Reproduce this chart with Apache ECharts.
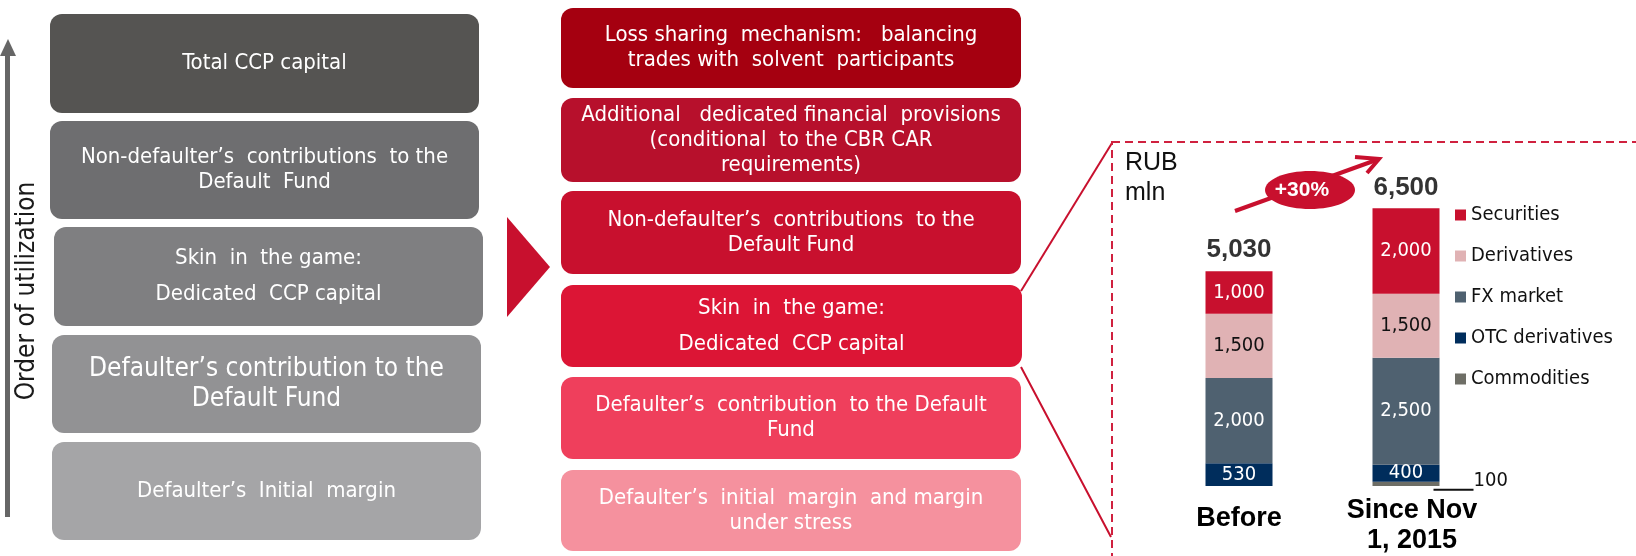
<!DOCTYPE html>
<html>
<head>
<meta charset="utf-8">
<title>CCP default waterfall</title>
<script src="https://cdn.jsdelivr.net/npm/echarts@6/dist/echarts.min.js"></script>
<style>
  html, body { margin: 0; padding: 0; background: #fff; }
  #chart { width: 1636px; height: 556px; }
</style>
</head>
<body>
<div id="chart"></div>
<script>
// text of the layers, top to bottom
const leftLayers = [
  "Total CCP capital",
  "Non-defaulter\u2019s  contributions  to the\nDefault  Fund",
  "Skin  in  the game:\nDedicated  CCP capital",
  "Defaulter\u2019s contribution to the\nDefault Fund",
  "Defaulter\u2019s  Initial  margin"
];
const rightLayers = [
  "Loss sharing  mechanism:   balancing\ntrades with  solvent  participants",
  "Additional   dedicated financial  provisions\n(conditional  to the CBR CAR\nrequirements)",
  "Non-defaulter\u2019s  contributions  to the\nDefault Fund",
  "Skin  in  the game:\nDedicated  CCP capital",
  "Defaulter\u2019s  contribution  to the Default\nFund",
  "Defaulter\u2019s  initial  margin  and margin\nunder stress"
];
const axisTitle = "Order of utilization";
const unitLabel = "RUB\nmln";
const growthLabel = "+30%";

// stacked bars, bottom to top
const categories = ["Before", "Since Nov\n1, 2015"];
const commodities = [0, 100];
const otcDerivatives = [530, 400];
const fxMarket = [2000, 2500];
const derivatives = [1500, 1500];
const securities = [1000, 2000];
const legendOrder = ["Securities", "Derivatives", "FX market", "OTC derivatives", "Commodities"];

const TAHOMA = "'DejaVu Sans Condensed', 'DejaVu Sans', sans-serif";
const ARIAL = "'Liberation Sans', Arial, sans-serif";

const chart = echarts.init(document.getElementById("chart"));

function layerBox(x, y, w, h, fill, text, fontSize, lineHeight) {
  return {
    type: "rect",
    shape: { x: x, y: y, width: w, height: h, r: 12 },
    style: { fill: fill },
    textContent: {
      style: {
        text: text,
        fill: "#fff",
        fontSize: fontSize,
        fontFamily: TAHOMA,
        lineHeight: lineHeight,
        align: "center"
      }
    },
    textConfig: { position: "inside" }
  };
}

const leftBoxes = [
  [50, 14, 429, 99, "#555452", 22, 25],
  [50, 121, 429, 98, "#6e6e70", 22, 25],
  [54, 227, 429, 99, "#7f7f81", 22, 36],
  [52, 335, 429, 98, "#929294", 26, 30],
  [52, 442, 429, 98, "#a5a5a7", 22, 25]
];
const rightBoxes = [
  [561, 8, 460, 80, "#a50010", 22, 25],
  [561, 98, 460, 84, "#b7102c", 22, 25],
  [561, 191, 460, 83, "#c8102e", 22, 25],
  [561, 285, 461, 82, "#dc1535", 22, 36],
  [561, 377, 460, 82, "#ef3f5c", 22, 25],
  [561, 470, 460, 81, "#f5919e", 22, 25]
];

const graphics = [];
leftBoxes.forEach((b, i) => {
  graphics.push(layerBox(b[0], b[1], b[2], b[3], b[4], leftLayers[i], b[5], b[6]));
});
rightBoxes.forEach((b, i) => {
  graphics.push(layerBox(b[0], b[1], b[2], b[3], b[4], rightLayers[i], b[5], b[6]));
});

// utilization arrow on the left
graphics.push(
  { type: "rect", shape: { x: 5, y: 54, width: 5, height: 463 }, style: { fill: "#666" } },
  { type: "polygon", shape: { points: [[8, 39], [16, 56], [0, 56]] }, style: { fill: "#666" } },
  {
    type: "text", x: 27, y: 291, rotation: Math.PI / 2,
    style: { text: axisTitle, fontSize: 26, fontFamily: TAHOMA, fill: "#1a1a1a", align: "center", verticalAlign: "middle" }
  },
  // pointer triangle
  { type: "polygon", shape: { points: [[507, 217], [550, 267], [507, 317]] }, style: { fill: "#c8102e" } },
  // zoom lines towards the bar panel
  { type: "line", shape: { x1: 1021, y1: 291, x2: 1112, y2: 143 }, style: { stroke: "#c8102e", lineWidth: 2 } },
  { type: "line", shape: { x1: 1021, y1: 367, x2: 1111, y2: 537 }, style: { stroke: "#c8102e", lineWidth: 2 } },
  {
    type: "rect", shape: { x: 1112, y: 142, width: 600, height: 500 },
    style: { fill: "none", stroke: "#d0213f", lineWidth: 2, lineDash: [8, 5] }
  },
  {
    type: "text", x: 1125, y: 148,
    style: { text: unitLabel, fontSize: 25, fontFamily: ARIAL, fill: "#111", lineHeight: 30, verticalAlign: "top" }
  },
  // growth arrow with bubble
  { type: "line", shape: { x1: 1235, y1: 211, x2: 1379, y2: 159 }, style: { stroke: "#c8102e", lineWidth: 4 } },
  { type: "polyline", shape: { points: [[1355, 157], [1379, 159], [1367, 173]] }, style: { stroke: "#c8102e", lineWidth: 4, fill: "none" } },
  { type: "ellipse", shape: { cx: 1310, cy: 190, rx: 45, ry: 19 }, style: { fill: "#c8102e" } },
  {
    type: "text", x: 1302, y: 190,
    style: { text: growthLabel, fontSize: 21, fontWeight: "bold", fontFamily: ARIAL, fill: "#fff", align: "center", verticalAlign: "middle" }
  }
);

const totals = categories.map((_, i) =>
  commodities[i] + otcDerivatives[i] + fxMarket[i] + derivatives[i] + securities[i]);

function fmt(v) {
  return v.toLocaleString("en-US");
}

function stackBar(name, data, color, textColor) {
  return {
    name: name,
    type: "bar",
    stack: "total",
    barWidth: 67,
    data: data,
    itemStyle: { color: color },
    label: {
      show: true,
      position: "inside",
      fontSize: 20,
      fontFamily: TAHOMA,
      color: textColor,
      formatter: (p) => (p.value ? fmt(p.value) : "")
    }
  };
}

const commoditySeries = stackBar("Commodities", commodities, "#6e6e66", "#111");
commoditySeries.label = {
  show: true,
  position: "right",
  distance: 0,
  offset: [-6, -4],
  formatter: (p) => (p.value ? "{line|}{num|" + fmt(p.value) + "}" : ""),
  rich: {
    line: { width: 40, height: 2, backgroundColor: "#111", verticalAlign: "bottom" },
    num: { fontSize: 20, fontFamily: TAHOMA, color: "#111", verticalAlign: "bottom", lineHeight: 22 }
  }
};

// small nudges so the two category labels sit like the original
const axisData = categories.map((c, i) => ({
  value: c,
  textStyle: { padding: i === 0 ? [8, 0, 0, 0] : [0, 0, 0, 12] }
}));

chart.setOption({
  animation: false,
  graphic: graphics,
  legend: {
    data: legendOrder,
    orient: "vertical",
    left: 1455,
    top: 205,
    padding: 0,
    itemWidth: 11,
    itemHeight: 11,
    itemGap: 21,
    icon: "rect",
    selectedMode: false,
    textStyle: { fontSize: 20, fontFamily: TAHOMA, color: "#111", lineHeight: 20 }
  },
  grid: { left: 1155.5, width: 334, top: 187, height: 302 },
  xAxis: {
    type: "category",
    data: axisData,
    axisLine: { show: false },
    axisTick: { show: false },
    axisLabel: {
      margin: 10,
      fontSize: 27,
      fontWeight: "bold",
      fontFamily: ARIAL,
      color: "#000",
      lineHeight: 30,
      interval: 0
    }
  },
  yAxis: { type: "value", min: 0, max: 7000, show: false },
  series: [
    commoditySeries,
    stackBar("OTC derivatives", otcDerivatives, "#002d5c", "#fff"),
    stackBar("FX market", fxMarket, "#4f6170", "#fff"),
    stackBar("Derivatives", derivatives, "#e0b2b4", "#111"),
    stackBar("Securities", securities, "#c8102e", "#fff"),
    {
      name: "Total",
      type: "scatter",
      data: totals,
      symbolSize: 0,
      silent: true,
      z: 5,
      label: {
        show: true,
        position: "top",
        distance: 8,
        fontSize: 26,
        fontWeight: "bold",
        fontFamily: ARIAL,
        color: "#000",
        formatter: (p) => fmt(p.value)
      }
    }
  ]
});
</script>
</body>
</html>
